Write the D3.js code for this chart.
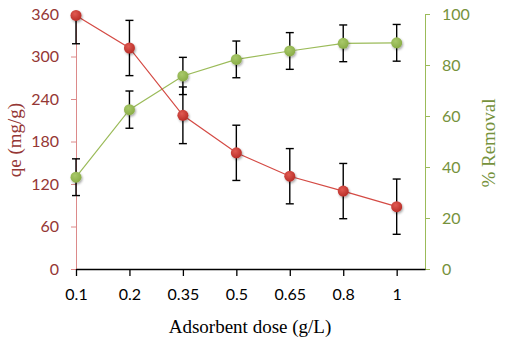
<!DOCTYPE html>
<html>
<head>
<meta charset="utf-8">
<script src="https://cdn.jsdelivr.net/npm/d3@7"></script>
<style>
  body { margin: 0; background: #fff; }
  svg { display: block; }
</style>
</head>
<body>
<div id="chart"></div>
<script>
// chart data
let doses = ["0.1", "0.2", "0.35", "0.5", "0.65", "0.8", "1"];
let qe = [358, 312, 217, 164, 131, 110, 88];
let qeErr = [40, 39, 40, 39, 39, 39, 39];
let removal = [36, 62.5, 75.7, 82.2, 85.5, 88.5, 88.7];
let removalErr = [7.2, 7.3, 7.3, 7.2, 7.2, 7.2, 7.2];
let leftTicks = [0, 60, 120, 180, 240, 300, 360];
let rightTicks = [0, 20, 40, 60, 80, 100];

let width = 505, height = 346;
let plot = {left: 76, right: 425, top: 14, bottom: 269};

let redText = "#953735", redAxis = "#dc8a8a";
let green = "#9bbb59", greenText = "#76923c";

let svg = d3.select("#chart")
    .append("svg")
    .attr("width", width)
    .attr("height", height);

let defs = svg.append("defs");
defs.append("clipPath").attr("id", "clip")
    .append("rect")
    .attr("x", plot.left - 10).attr("y", plot.top)
    .attr("width", plot.right - plot.left + 20).attr("height", plot.bottom - plot.top);

let shadow = defs.append("filter").attr("id", "shadow")
    .attr("x", "-50%").attr("y", "-50%").attr("width", "200%").attr("height", "200%");
shadow.append("feDropShadow")
    .attr("dx", 1).attr("dy", 1.5).attr("stdDeviation", 1.2)
    .attr("flood-color", "#000").attr("flood-opacity", 0.35);

function radial(id, light, dark) {
    let g = defs.append("radialGradient").attr("id", id)
        .attr("cx", "40%").attr("cy", "35%").attr("r", "65%");
    g.append("stop").attr("offset", "0%").attr("stop-color", light);
    g.append("stop").attr("offset", "100%").attr("stop-color", dark);
}
radial("gRed", "#e05a52", "#b92e28");
radial("gGreen", "#a9c96a", "#8aad47");

// x is categorical but spaced like Excel's line chart (axis runs half a band past last point)
let x = d3.scaleLinear()
    .domain([0, doses.length - 0.47])
    .range([plot.left, plot.right]);

let yL = d3.scaleLinear().domain([0, 360]).range([plot.bottom, plot.top]);
let yR = d3.scaleLinear().domain([0, 100]).range([plot.bottom, plot.top]);

// left axis
let leftAxis = svg.append("g")
    .attr("transform", `translate(${plot.left}, 0)`)
    .call(d3.axisLeft(yL).tickValues(leftTicks).tickSize(5).tickPadding(12));
leftAxis.select(".domain").attr("stroke", redAxis);
leftAxis.selectAll(".tick line").attr("stroke", redAxis);
leftAxis.selectAll("text")
    .attr("fill", redText)
    .style("font-family", "Lato, 'Open Sans', sans-serif")
    .style("font-size", "16px");

// right axis
let rightAxis = svg.append("g")
    .attr("transform", `translate(${plot.right}, 0)`)
    .call(d3.axisRight(yR).tickValues(rightTicks).tickSize(5).tickPadding(12));
rightAxis.select(".domain").attr("stroke", green);
rightAxis.selectAll(".tick line").attr("stroke", green);
rightAxis.selectAll("text")
    .attr("fill", greenText)
    .style("font-family", "Lato, 'Open Sans', sans-serif")
    .style("font-size", "16px");

// bottom axis
let bottomAxis = svg.append("g")
    .attr("transform", `translate(0, ${plot.bottom})`)
    .call(d3.axisBottom(x).tickValues(d3.range(doses.length))
        .tickFormat(i => doses[i]).tickSize(7).tickPadding(13).tickSizeOuter(0));
bottomAxis.select(".domain").attr("stroke", "#000").attr("stroke-width", 1.3);
bottomAxis.selectAll(".tick line").attr("stroke", "#000").attr("stroke-width", 1.3);
bottomAxis.selectAll("text")
    .attr("fill", "#000")
    .style("font-family", "Lato, 'Open Sans', sans-serif")
    .style("font-size", "16px");

// axis titles
svg.append("text")
    .attr("x", 250)
    .attr("y", 333)
    .style("text-anchor", "middle")
    .style("font-family", "'Liberation Serif', serif")
    .style("font-size", "19px")
    .text("Adsorbent dose (g/L)");

svg.append("text")
    .attr("transform", `translate(21, 140)rotate(-90)`)
    .style("text-anchor", "middle")
    .style("font-family", "'Liberation Serif', serif")
    .style("font-size", "19px")
    .attr("fill", redText)
    .text("qe (mg/g)");

svg.append("text")
    .attr("transform", `translate(495, 143)rotate(-90)`)
    .style("text-anchor", "middle")
    .style("font-family", "'Liberation Serif', serif")
    .style("font-size", "19px")
    .attr("fill", greenText)
    .text("% Removal");

function drawSeries(values, errs, y, lineColor, fillId) {
    let g = svg.append("g").attr("clip-path", "url(#clip)");
    let pts = values.map((v, i) => ({i: i, v: v, e: errs[i]}));

    g.append("path")
        .datum(pts)
        .attr("fill", "none")
        .attr("stroke", lineColor)
        .attr("stroke-width", 1.2)
        .attr("d", d3.line().x(d => x(d.i)).y(d => y(d.v)));

    let eb = g.selectAll(".err").data(pts).enter().append("g");
    eb.append("line")
        .attr("x1", d => x(d.i)).attr("x2", d => x(d.i))
        .attr("y1", d => y(d.v + d.e)).attr("y2", d => y(d.v - d.e))
        .attr("stroke", "#000").attr("stroke-width", 1.4);
    [1, -1].forEach(s => {
        eb.append("line")
            .attr("x1", d => x(d.i) - 4).attr("x2", d => x(d.i) + 4)
            .attr("y1", d => y(d.v + s * d.e)).attr("y2", d => y(d.v + s * d.e))
            .attr("stroke", "#000").attr("stroke-width", 1.4);
    });

    svg.append("g").selectAll("circle").data(pts).enter()
        .append("circle")
        .attr("cx", d => x(d.i))
        .attr("cy", d => y(d.v))
        .attr("r", 5.5)
        .attr("fill", `url(#${fillId})`)
        .attr("filter", "url(#shadow)");
}

drawSeries(removal, removalErr, yR, green, "gGreen");
drawSeries(qe, qeErr, yL, "#d44a44", "gRed");
</script>
</body>
</html>
